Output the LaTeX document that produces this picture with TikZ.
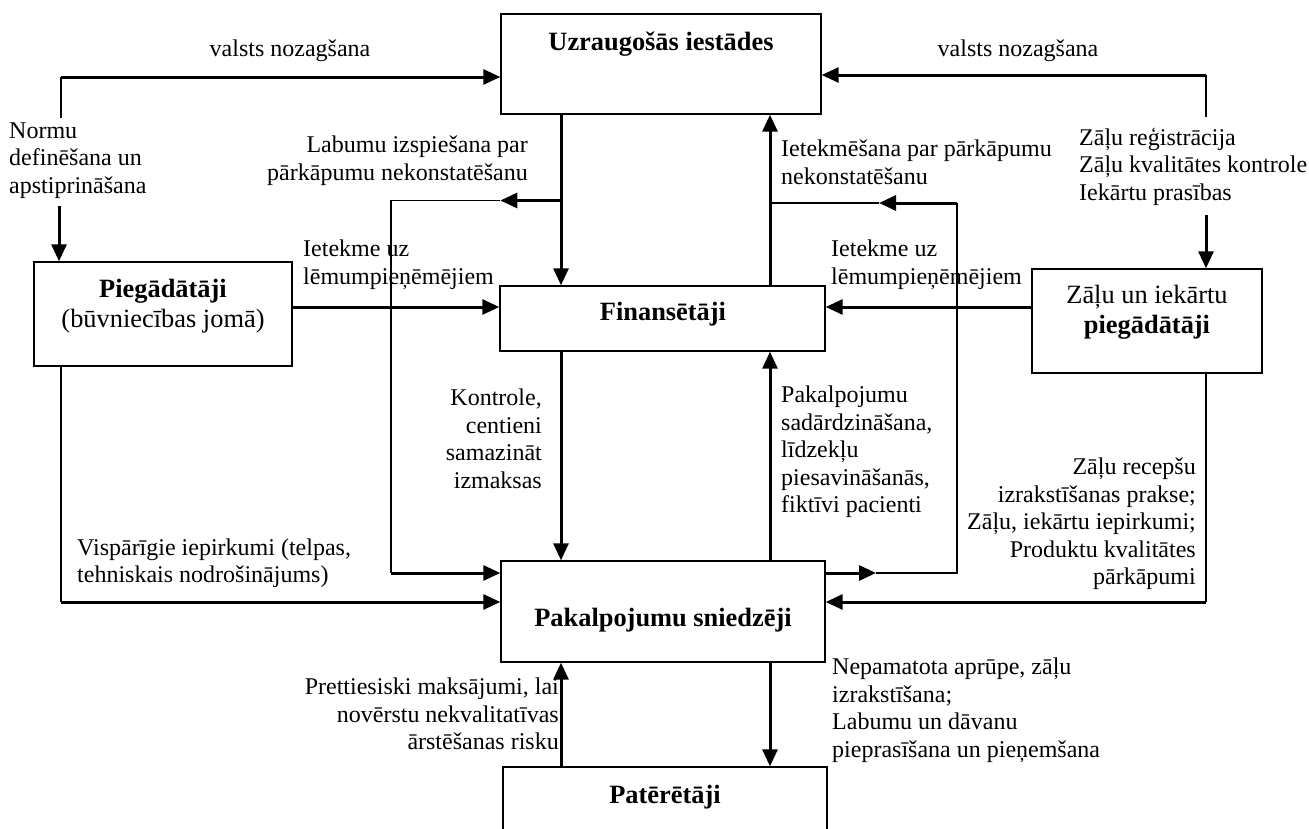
\documentclass[tikz,border=0pt]{standalone}
\usepackage{fontspec}
\setmainfont{Liberation Serif}
\usetikzlibrary{arrows.meta}

\begin{document}
\begin{tikzpicture}[x = 1pt, y = -1pt,
            box/.style = {draw, line width = 1.4pt, inner sep = 0pt},
            title/.style = {font = \fontsize{26.4}{30}\selectfont\bfseries, inner sep = 0pt},
            inbox/.style = {font = \fontsize{26.4}{30}\selectfont, inner sep = 0pt},
            note/.style = {font = \fontsize{24}{27.6}\selectfont, inner sep = 0pt},
            flow/.style = {-{Triangle[length = 17pt, width = 15pt]}, line width = 3pt},
            wire/.style = {line width = 1.2pt}]
            \useasboundingbox (0, 0) rectangle (1309, 828);
            \node [box, minimum width = 320pt, minimum height = 100pt] (uzr) at (661, 64) {};
            \node [box, minimum width = 325pt, minimum height = 65pt] (fin) at (662.5, 318.5) {};
            \node [box, minimum width = 324pt, minimum height = 101pt] (pak) at (663, 611.5) {};
            \node [box, minimum width = 324pt, minimum height = 90pt] (pat) at (665, 812) {};
            \node [box, minimum width = 258pt, minimum height = 104pt] (pieg) at (163, 314) {};
            \node [box, minimum width = 230pt, minimum height = 104pt] (zal) at (1147, 321) {};
            \node [title, anchor = base] (uzrname) at (661, 50) {Uzraugošās iestādes};
            \node [title, anchor = base] (finname) at (663, 320) {Finansētāji};
            \node [title, anchor = base] (pakname) at (663, 626) {Pakalpojumu sniedzēji};
            \node [title, anchor = base] (patname) at (665, 803) {Patērētāji};
            \node [inbox, align = center, anchor = north] (piegname) at (163, 279) {\textbf{Piegādātāji}\\(būvniecības jomā)};
            \node [inbox, align = center, anchor = north] (zalname) at (1147, 284.7) {Zāļu un iekārtu\\\textbf{piegādātāji}};
            \coordinate (tlcorner) at (61, 77);
            \coordinate (tlfoot) at (61, 118);
            \coordinate (trcorner) at (1206, 75);
            \coordinate (trfoot) at (1206, 117);
            \coordinate (ltop) at (59, 206);
            \coordinate (rtop) at (1206, 215);
            \coordinate (lbranch) at (561, 200.5);
            \coordinate (lbend) at (391, 200.5);
            \coordinate (lfoot) at (391, 573);
            \coordinate (rlane) at (770, 203);
            \coordinate (rtip) at (879, 203);
            \coordinate (rbranch) at (957, 203);
            \coordinate (rfoot) at (957, 573);
            \coordinate (rtiplow) at (876, 573);
            \coordinate (midrow) at (662, 307);
            \coordinate (lwire) at (61, 602);
            \coordinate (rwire) at (1206, 602);
            \draw [wire] (tlfoot) -- (tlcorner);
            \draw [flow] (tlcorner) -- (tlcorner -| uzr.west);
            \draw [wire] (trfoot) -- (trcorner);
            \draw [flow] (trcorner) -- (trcorner -| uzr.east);
            \draw [flow] (ltop) -- (ltop |- pieg.north);
            \draw [flow] (rtop) -- (rtop |- zal.north);
            \draw [flow] (uzr.south -| lbranch) -- (fin.north -| lbranch);
            \draw [flow] (fin.north -| rlane) -- (uzr.south -| rlane);
            \draw [flow] (fin.south -| lbranch) -- (pak.north -| lbranch);
            \draw [flow] (pak.north -| rlane) -- (fin.south -| rlane);
            \draw [flow] (pat.north -| lbranch) -- (pak.south -| lbranch);
            \draw [flow] (pak.south -| rlane) -- (pat.north -| rlane);
            \draw [flow] (lbranch) -- (lbranch -| uzr.west);
            \draw [wire] (lbranch -| uzr.west) -- (lbend) -- (lfoot);
            \draw [flow] (lfoot) -- (lfoot -| pak.west);
            \draw [flow] (rbranch) -- (rtip);
            \draw [wire] (rtip) -- (rlane);
            \draw [wire] (rbranch) -- (rfoot) -- (rtiplow);
            \draw [flow] (rfoot -| pak.east) -- (rtiplow);
            \draw [flow] (midrow -| pieg.east) -- (midrow -| fin.west);
            \draw [flow] (midrow -| zal.west) -- (midrow -| fin.east);
            \draw [wire] (pieg.south -| lwire) -- (lwire);
            \draw [flow] (lwire) -- (lwire -| pak.west);
            \draw [wire] (zal.south -| rwire) -- (rwire);
            \draw [flow] (rwire) -- (rwire -| pak.east);
            \node [note, anchor = base] (stateleft) at (290, 56.5) {valsts nozagšana};
            \node [note, anchor = base] (stateright) at (1018, 56) {valsts nozagšana};
            \node [note, align = left, anchor = north west] (norms) at (9, 122.4) {Normu\\definēšana un\\apstiprināšana};
            \node [note, align = right, anchor = north east] (extort) at (528, 135.6) {Labumu izspiešana par\\pārkāpumu nekonstatēšanu};
            \node [note, align = left, anchor = north west] (sway) at (781, 139.6) {Ietekmēšana par pārkāpumu\\nekonstatēšanu};
            \node [note, align = left, anchor = north west] (register) at (1079, 127.6) {Zāļu reģistrācija\\Zāļu kvalitātes kontrole\\Iekārtu prasības};
            \node [note, align = left, anchor = north west] (leftsway) at (303, 239.6) {Ietekme uz\\lēmumpieņēmējiem};
            \node [note, align = left, anchor = north west] (rightsway) at (831, 239.6) {Ietekme uz\\lēmumpieņēmējiem};
            \node [note, align = right, anchor = north east] (control) at (542, 388.6) {Kontrole,\\centieni\\samazināt\\izmaksas};
            \node [note, align = left, anchor = north west] (inflate) at (781, 385.6) {Pakalpojumu\\sadārdzināšana,\\līdzekļu\\piesavināšanās,\\fiktīvi pacienti};
            \node [note, align = right, anchor = north east] (recipes) at (1196, 457.6) {Zāļu recepšu\\izrakstīšanas prakse;\\Zāļu, iekārtu iepirkumi;\\Produktu kvalitātes\\pārkāpumi};
            \node [note, align = left, anchor = north west] (general) at (77, 538.5) {Vispārīgie iepirkumi (telpas,\\tehniskais nodrošinājums)};
            \node [note, align = right, anchor = north east] (payments) at (559, 677.6) {Prettiesiski maksājumi, lai\\novērstu nekvalitatīvas\\ārstēšanas risku};
            \node [note, align = left, anchor = north west] (demands) at (832, 657.6) {Nepamatota aprūpe, zāļu\\izrakstīšana;\\Labumu un dāvanu\\pieprasīšana un pieņemšana};
        \end{tikzpicture}
\end{document}
